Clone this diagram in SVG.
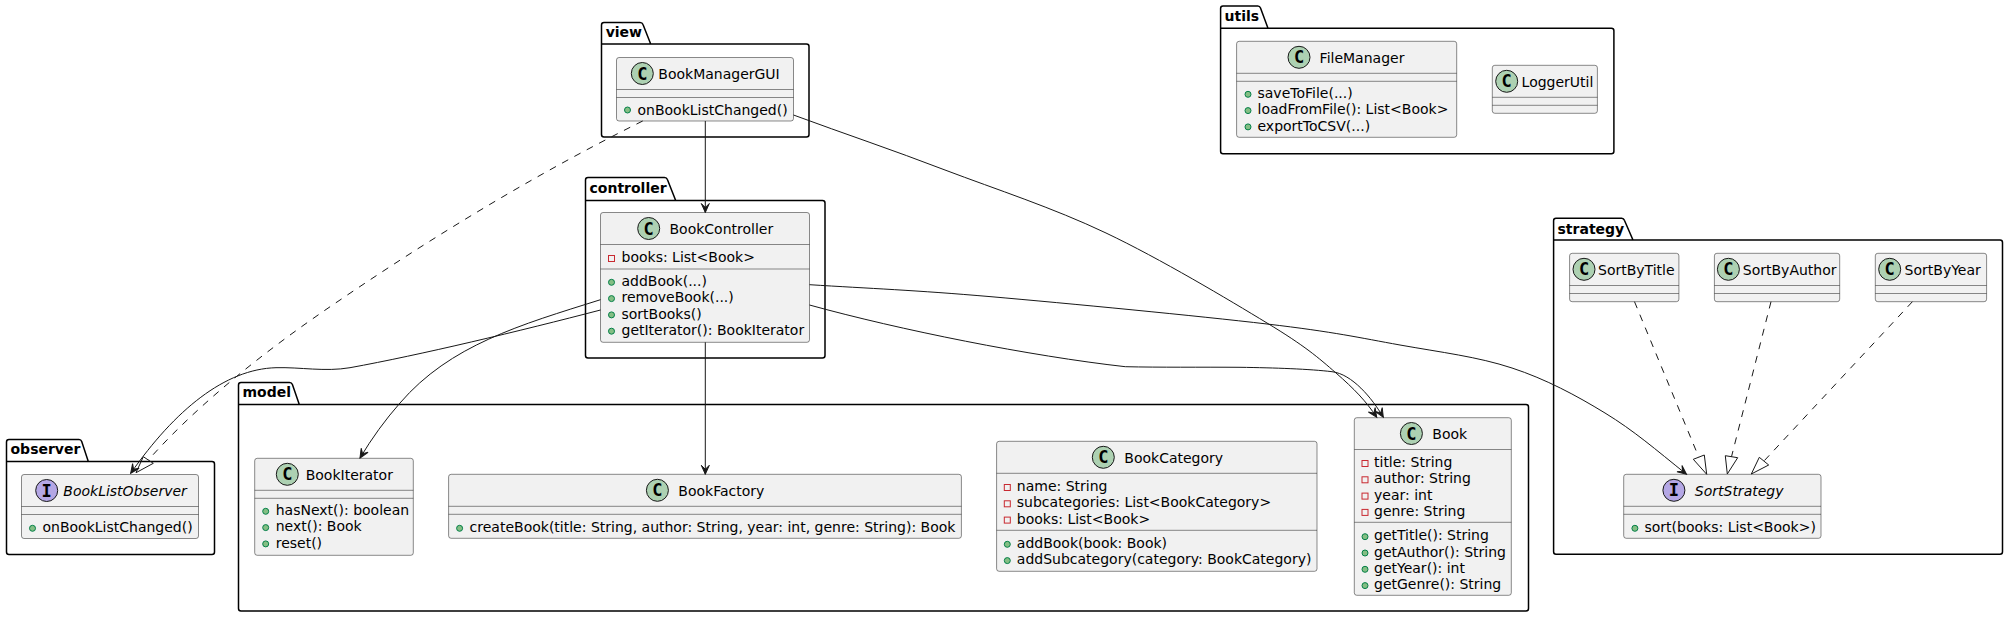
<svg xmlns="http://www.w3.org/2000/svg" width="2004" height="617" viewBox="0 0 2004 617">
<style>
text{font-family:"DejaVu Sans",sans-serif;font-size:14px;fill:#000}
.pk{fill:none;stroke:#000;stroke-width:1.5}
.pt{font-weight:bold}
.b{fill:#F1F1F1;stroke:#181818;stroke-width:.5}
.s{stroke:#181818;stroke-width:.5}
.cc{fill:#ADD1B2;stroke:#181818;stroke-width:1}
.ci{fill:#B4A7E5;stroke:#181818;stroke-width:1}
.g{font-family:"DejaVu Sans Mono",monospace;font-weight:bold;font-size:17px;text-anchor:middle}
.it{font-style:italic}
.pub{fill:#84BE84;stroke:#038048;stroke-width:1}
.pri{fill:none;stroke:#C82930;stroke-width:1}
.c{fill:none;stroke:#181818;stroke-width:1}
.a{marker-end:url(#open)}
.d{stroke-dasharray:7 7}
.t{fill:none;stroke:#181818;stroke-width:1}
</style>
<defs>
<marker id="open" markerUnits="userSpaceOnUse" markerWidth="14" markerHeight="14" viewBox="-11 -7 14 14" refX="0" refY="0" orient="auto" overflow="visible"><path d="M0,0 L-9,-4 L-5,0 L-9,4 Z" fill="#181818" stroke="#181818" stroke-width="1"/></marker>
</defs>
<rect width="2004" height="617" fill="#fff"/>

<g id="pkg-view"><path class="pk" d="M604,22.5 H640 Q642.3,22.5 643,24.5 L650.7,44 H806.5 Q809,44 809,46.5 V134.5 Q809,137 806.5,137 H604 Q601.5,137 601.5,134.5 V25 Q601.5,22.5 604,22.5 Z M601.5,44 H650.7"/><text class="pt" x="605.7" y="37">view</text></g>
<g id="pkg-controller"><path class="pk" d="M588,177.5 H664.5 Q666.7,177.5 667.4,179.5 L675.7,200.5 H822.5 Q825,200.5 825,203 V355.5 Q825,358 822.5,358 H588 Q585.5,358 585.5,355.5 V180 Q585.5,177.5 588,177.5 Z M585.5,200.5 H675.7"/><text class="pt" x="589.5" y="193">controller</text></g>
<g id="pkg-observer"><path class="pk" d="M9,439.5 H79 Q81,439.5 81.7,441.5 L88.3,461.5 H212 Q214.5,461.5 214.5,464 V552 Q214.5,554.5 212,554.5 H9 Q6.5,554.5 6.5,552 V442 Q6.5,439.5 9,439.5 Z M6.5,461.5 H88.3"/><text class="pt" x="10.5" y="454">observer</text></g>
<g id="pkg-model"><path class="pk" d="M241,382.5 H289.5 Q291.7,382.5 292.4,384.5 L299.3,404.5 H1526 Q1528.5,404.5 1528.5,407 V608.5 Q1528.5,611 1526,611 H241 Q238.5,611 238.5,608.5 V385 Q238.5,382.5 241,382.5 Z M238.5,404.5 H299.3"/><text class="pt" x="242.5" y="397">model</text></g>
<g id="pkg-utils"><path class="pk" d="M1223,6 H1257.8 Q1259.8,6 1260.5,8 L1268,28.3 H1611.4 Q1613.9,28.3 1613.9,30.8 V151.2 Q1613.9,153.7 1611.4,153.7 H1223 Q1220.6,153.7 1220.6,151.2 V8.5 Q1220.6,6 1223,6 Z M1220.6,28.3 H1268"/><text class="pt" x="1224.5" y="20.7">utils</text></g>
<g id="pkg-strategy"><path class="pk" d="M1556,218.3 H1621.7 Q1623.7,218.3 1624.4,220.3 L1633,240 H2000 Q2002.5,240 2002.5,242.5 V551.8 Q2002.5,554.3 2000,554.3 H1556 Q1553.6,554.3 1553.6,551.8 V220.8 Q1553.6,218.3 1556,218.3 Z M1553.6,240 H1633"/><text class="pt" x="1557.5" y="234">strategy</text></g>

<g id="BookManagerGUI"><rect class="b" x="616.5" y="57.5" width="177" height="63.5" rx="2.5"/><path class="s" d="M616.5,89.5 H793.5 M616.5,97.5 H793.5"/><circle class="cc" cx="642.3" cy="73.5" r="11"/><text class="g" x="642.3" y="79.5">C</text><text x="658.3" y="78.5">BookManagerGUI</text><circle class="pub" cx="627.5" cy="110" r="3"/><text x="637.5" y="114.5">onBookListChanged()</text></g>

<g id="BookController"><rect class="b" x="600.5" y="212.5" width="209" height="129.8" rx="2.5"/><path class="s" d="M600.5,244.5 H809.5 M600.5,269 H809.5"/><circle class="cc" cx="648.7" cy="228.5" r="11"/><text class="g" x="648.7" y="234.5">C</text><text x="669.5" y="234">BookController</text><rect class="pri" x="608.5" y="255.5" width="6" height="6"/><text x="621.5" y="262.3">books: List&lt;Book&gt;</text><circle class="pub" cx="611.5" cy="282.3" r="3"/><text x="621.5" y="286">addBook(...)</text><circle class="pub" cx="611.5" cy="298.6" r="3"/><text x="621.5" y="302.3">removeBook(...)</text><circle class="pub" cx="611.5" cy="314.9" r="3"/><text x="621.5" y="318.6">sortBooks()</text><circle class="pub" cx="611.5" cy="331.2" r="3"/><text x="621.5" y="334.9">getIterator(): BookIterator</text></g>

<g id="BookListObserver"><rect class="b" x="21.5" y="474.5" width="177" height="64" rx="2.5"/><path class="s" d="M21.5,506.5 H198.5 M21.5,514.5 H198.5"/><circle class="ci" cx="46.7" cy="490.5" r="11"/><text class="g" x="46.7" y="496.5">I</text><text class="it" x="63.3" y="495.5">BookListObserver</text><circle class="pub" cx="32.5" cy="528.3" r="3"/><text x="42.5" y="531.5">onBookListChanged()</text></g>

<g id="BookIterator"><rect class="b" x="254.7" y="458.3" width="158.6" height="97" rx="2.5"/><path class="s" d="M254.7,490.3 H413.3 M254.7,498.3 H413.3"/><circle class="cc" cx="287.3" cy="474.3" r="11"/><text class="g" x="287.3" y="480.3">C</text><text x="305.7" y="480">BookIterator</text><circle class="pub" cx="265.7" cy="511.3" r="3"/><text x="275.7" y="515">hasNext(): boolean</text><circle class="pub" cx="265.7" cy="527.6" r="3"/><text x="275.7" y="531.3">next(): Book</text><circle class="pub" cx="265.7" cy="543.9" r="3"/><text x="275.7" y="547.6">reset()</text></g>

<g id="BookFactory"><rect class="b" x="448.6" y="474.3" width="512.8" height="64" rx="2.5"/><path class="s" d="M448.6,506.3 H961.4 M448.6,514.3 H961.4"/><circle class="cc" cx="657.4" cy="490.3" r="11"/><text class="g" x="657.4" y="496.3">C</text><text x="678.3" y="495.5">BookFactory</text><circle class="pub" cx="459.6" cy="528.3" r="3"/><text x="469.6" y="531.5">createBook(title: String, author: String, year: int, genre: String): Book</text></g>

<g id="BookCategory"><rect class="b" x="996.6" y="441.3" width="320.4" height="130" rx="2.5"/><path class="s" d="M996.6,473.3 H1317 M996.6,530.3 H1317"/><circle class="cc" cx="1103.3" cy="457.3" r="11"/><text class="g" x="1103.3" y="463.3">C</text><text x="1124.3" y="463">BookCategory</text><rect class="pri" x="1004.3" y="484.5" width="6" height="6"/><text x="1016.8" y="491">name: String</text><rect class="pri" x="1004.3" y="500.8" width="6" height="6"/><text x="1016.8" y="507.3">subcategories: List&lt;BookCategory&gt;</text><rect class="pri" x="1004.3" y="517.1" width="6" height="6"/><text x="1016.8" y="523.6">books: List&lt;Book&gt;</text><circle class="pub" cx="1007.3" cy="544.3" r="3"/><text x="1016.8" y="548">addBook(book: Book)</text><circle class="pub" cx="1007.3" cy="560.6" r="3"/><text x="1016.8" y="564.3">addSubcategory(category: BookCategory)</text></g>

<g id="Book"><rect class="b" x="1354.3" y="417.7" width="157" height="177.6" rx="2.5"/><path class="s" d="M1354.3,449.5 H1511.3 M1354.3,522.3 H1511.3"/><circle class="cc" cx="1411.4" cy="433.5" r="11"/><text class="g" x="1411.4" y="439.5">C</text><text x="1432.3" y="439">Book</text><rect class="pri" x="1362" y="460.5" width="6" height="6"/><text x="1374" y="467">title: String</text><rect class="pri" x="1362" y="476.8" width="6" height="6"/><text x="1374" y="483.3">author: String</text><rect class="pri" x="1362" y="493.1" width="6" height="6"/><text x="1374" y="499.6">year: int</text><rect class="pri" x="1362" y="509.4" width="6" height="6"/><text x="1374" y="515.9">genre: String</text><circle class="pub" cx="1365" cy="536.7" r="3"/><text x="1374" y="540.4">getTitle(): String</text><circle class="pub" cx="1365" cy="553" r="3"/><text x="1374" y="556.7">getAuthor(): String</text><circle class="pub" cx="1365" cy="569.3" r="3"/><text x="1374" y="573">getYear(): int</text><circle class="pub" cx="1365" cy="585.6" r="3"/><text x="1374" y="589.3">getGenre(): String</text></g>

<g id="SortStrategy"><rect class="b" x="1623.7" y="474.3" width="197.3" height="64" rx="2.5"/><path class="s" d="M1623.7,506.3 H1821 M1623.7,514.3 H1821"/><circle class="ci" cx="1673.9" cy="490.3" r="11"/><text class="g" x="1673.9" y="496.3">I</text><text class="it" x="1694.8" y="495.5">SortStrategy</text><circle class="pub" cx="1634.9" cy="528.3" r="3"/><text x="1644.5" y="531.5">sort(books: List&lt;Book&gt;)</text></g>

<g id="SortByTitle"><rect class="b" x="1569.6" y="253.3" width="109.3" height="48.4" rx="2.5"/><path class="s" d="M1569.6,285.5 H1678.9 M1569.6,293.5 H1678.9"/><circle class="cc" cx="1584" cy="269.3" r="11"/><text class="g" x="1584" y="275.3">C</text><text x="1598" y="274.7">SortByTitle</text></g>
<g id="SortByAuthor"><rect class="b" x="1714.4" y="253.3" width="125.3" height="48.4" rx="2.5"/><path class="s" d="M1714.4,285.5 H1839.7 M1714.4,293.5 H1839.7"/><circle class="cc" cx="1728.4" cy="269.3" r="11"/><text class="g" x="1728.4" y="275.3">C</text><text x="1742.8" y="274.7">SortByAuthor</text></g>
<g id="SortByYear"><rect class="b" x="1875.3" y="253.3" width="111.3" height="48.4" rx="2.5"/><path class="s" d="M1875.3,285.5 H1986.6 M1875.3,293.5 H1986.6"/><circle class="cc" cx="1889.7" cy="269.3" r="11"/><text class="g" x="1889.7" y="275.3">C</text><text x="1904.6" y="274.7">SortByYear</text></g>

<g id="FileManager"><rect class="b" x="1236.6" y="41.3" width="220.1" height="96" rx="2.5"/><path class="s" d="M1236.6,73.3 H1456.7 M1236.6,81.3 H1456.7"/><circle class="cc" cx="1299" cy="57.3" r="11"/><text class="g" x="1299" y="63.3">C</text><text x="1319.6" y="62.8">FileManager</text><circle class="pub" cx="1248" cy="94.3" r="3"/><text x="1257.5" y="98">saveToFile(...)</text><circle class="pub" cx="1248" cy="110.6" r="3"/><text x="1257.5" y="114.3">loadFromFile(): List&lt;Book&gt;</text><circle class="pub" cx="1248" cy="126.9" r="3"/><text x="1257.5" y="130.6">exportToCSV(...)</text></g>
<g id="LoggerUtil"><rect class="b" x="1492.3" y="65.3" width="105.1" height="48" rx="2.5"/><path class="s" d="M1492.3,97.3 H1597.4 M1492.3,105.3 H1597.4"/><circle class="cc" cx="1506.7" cy="81.3" r="11"/><text class="g" x="1506.7" y="87.3">C</text><text x="1521.6" y="86.8">LoggerUtil</text></g>

<g id="connectors">
<path class="c a" d="M705.3,121 V212.5"/>
<path class="c a" d="M705.3,342.3 V474.3"/>
<path class="c a" d="M793.5,115 C845,134 893,150 945,170 C997,189.7 1052.3,207.5 1106,233 C1159.7,258.5 1228.7,299.7 1267,323 C1305,346 1318,357.3 1336,373 C1354,388.7 1366,401 1376.7,417.3"/>
<path class="c a" d="M809.5,305 C900,330 1030,356 1125.3,366.7 C1160,367.5 1200,367 1240,367.3 C1275,367.8 1310,369 1332,371.7 C1352,374 1372,398 1383.3,417.3"/>
<path class="c a" d="M809.5,284.7 C870,288.5 914.7,290.1 991,296.7 C1067.3,303.3 1198.8,316 1267,324 C1335.2,332 1359.2,337.7 1400,345 C1440.8,352.3 1477.8,356.7 1512,368 C1546.2,379.3 1576,395.3 1605,413 C1634,430.7 1655,449 1686.5,474.3"/>
<path class="c a" d="M600.5,310 C520,331 420,355 350,367.7 C325,372 300,367 276,367.7 C225,369 175,410 130.7,473.3"/>
<path class="c a" d="M600.5,299.7 C520,325 450,345 400,403 C385,420 372,438 360,458"/>
<path class="c d" d="M642.7,121 C540,172 440,232 340,300 C270,347 200,402 148.3,460"/>
<polygon class="t" points="136,472.7 143.3,456.7 153.3,463.3"/>
<path class="c d" d="M1634.5,301.7 L1698.8,457.2"/>
<polygon class="t" points="1706.7,474.3 1693.3,459.3 1704.3,455"/>
<path class="c d" d="M1771,301.7 L1731.5,456.7"/>
<polygon class="t" points="1727.3,474 1725.3,455.7 1737.7,457.7"/>
<path class="c d" d="M1912.4,301.7 L1764,461"/>
<polygon class="t" points="1751.3,474 1759.3,457.3 1768.7,465"/>
</g>
</svg>
